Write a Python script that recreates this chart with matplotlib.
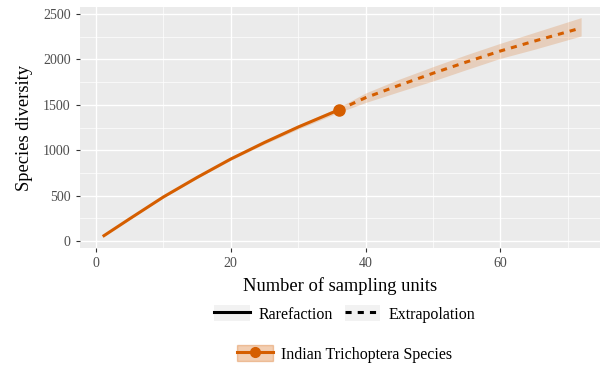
import numpy as np
import matplotlib.pyplot as plt
from matplotlib.lines import Line2D
from matplotlib.patches import Patch

plt.rcParams['font.family'] = ['Liberation Serif', 'DejaVu Serif']

# Rarefaction (observed) part
rare_x = [1, 5, 10, 15, 20, 25, 30, 36]
rare_y = [50, 245, 485, 700, 903, 1085, 1255, 1443]
rare_lo = [48, 240, 478, 690, 890, 1068, 1232, 1415]
rare_hi = [52, 250, 492, 710, 916, 1102, 1278, 1471]

# Extrapolation part
extra_x = [36, 40, 45, 50, 55, 60, 65, 72]
extra_y = [1443, 1578, 1715, 1847, 1972, 2092, 2200, 2346]
extra_lo = [1415, 1525, 1645, 1762, 1888, 2011, 2110, 2258]
extra_hi = [1471, 1630, 1782, 1920, 2052, 2177, 2295, 2460]

series_name = 'Indian Trichoptera Species'
col = '#D55E00'

fig = plt.figure(figsize=(6, 3.68), dpi=100)
ax = fig.add_axes([0.133, 0.326, 0.867, 0.655])
ax.set_facecolor('#EBEBEB')
for s in ax.spines.values():
    s.set_visible(False)

ax.fill_between(rare_x, rare_lo, rare_hi, color=col, alpha=0.2, lw=0)
ax.fill_between(extra_x, extra_lo, extra_hi, color=col, alpha=0.2, lw=0)
ax.plot(rare_x, rare_y, color=col, lw=2.2, solid_capstyle='butt')
ax.plot(extra_x, extra_y, color=col, lw=2.2, ls=(0, (2, 2)))
ax.plot([rare_x[-1]], [rare_y[-1]], 'o', color=col, ms=8)

ax.set_xlim(-2.4, 74.8)
ax.set_ylim(-77, 2577)
ax.set_xticks([0, 20, 40, 60])
ax.set_yticks([0, 500, 1000, 1500, 2000, 2500])
ax.set_xticks([10, 30, 50, 70], minor=True)
ax.set_yticks([250, 750, 1250, 1750, 2250], minor=True)
ax.grid(which='major', color='white', lw=1.0)
ax.grid(which='minor', color='white', lw=0.5)
ax.set_axisbelow(True)
ax.tick_params(which='major', length=3, color='#333333', labelcolor='#4D4D4D', labelsize=10)
ax.tick_params(which='minor', length=0)

ax.set_xlabel('Number of sampling units', fontsize=13.3, labelpad=5)
ax.set_ylabel('Species diversity', fontsize=13.3, labelpad=7)

bg = Patch(facecolor='#F2F2F2', edgecolor='none')
h1 = (bg, Line2D([], [], color='black', lw=2.2))
h2 = (bg, Line2D([], [], color='black', lw=2.2, ls=(0, (2, 2))))
leg1 = fig.legend([h1, h2], ['Rarefaction', 'Extrapolation'], loc='center',
                  bbox_to_anchor=(0.575, 0.147), ncol=2, frameon=False,
                  fontsize=11.5, handlelength=2.2, handleheight=1.15, columnspacing=0.75,
                  handletextpad=0.56)
h3 = (Patch(facecolor=col, alpha=0.3, edgecolor=col, lw=1),
      Line2D([], [], color=col, lw=2.2, marker='o', ms=7))
leg2 = fig.legend([h3], [series_name], loc='center', bbox_to_anchor=(0.575, 0.038),
                  frameon=False, fontsize=11.5, handlelength=2.2, handleheight=1.15,
                  handletextpad=0.56)

fig.savefig('out.png', dpi=100)
